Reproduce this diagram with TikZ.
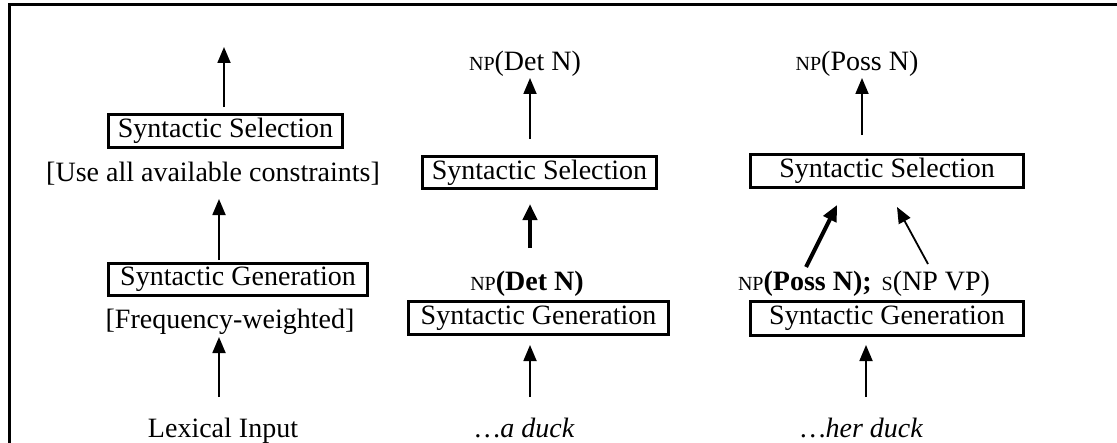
\documentclass[tikz,border=0pt]{standalone}
\usepackage{fontspec}
\setmainfont{Liberation Serif}
\usetikzlibrary{arrows.meta}
\newcommand{\diagfont}{\fontsize{14}{16}\selectfont}
\newcommand{\smc}[1]{{\fontsize{10}{10}\selectfont #1}}
\begin{document}
\begin{tikzpicture}[x=0.5pt,y=-0.5pt,
  every node/.style={font=\diagfont, inner sep=0pt},
  box/.style={draw, line width=1.4pt},
  arr/.style={-{Triangle[length=8pt,width=6.5pt]}, line width=0.9pt},
  tarr/.style={-{Triangle[length=8pt,width=7pt]}, line width=2pt}]
\useasboundingbox (0,0) rectangle (1117,443);
\draw[line width=1.5pt] (9,443) -- (9,5) -- (1117,5);

% column 1
\node[box, minimum width=117pt, minimum height=16.5pt] (ss1) at (225.5,131) {Syntactic Selection};
\node[anchor=base] (use1) at (213,182) {[Use all available constraints]};
\node[box, minimum width=129.5pt, minimum height=16pt] (sg1) at (238,279.5) {Syntactic Generation};
\node[anchor=base] (freq1) at (230,328) {[Frequency-weighted]};
\node[anchor=base] (lex1) at (223,437) {Lexical Input};
\coordinate (a1t) at (224,47);
\coordinate (a2t) at (219,199);
\coordinate (a3s) at (219,397);
\coordinate (a3t) at (219,337);
\draw[arr, shorten <=3pt] (ss1.north -| a1t) -- (a1t);
\draw[arr, shorten <=1pt] (sg1.north -| a2t) -- (a2t);
\draw[arr] (a3s) -- (a3t);

% column 2
\node[anchor=base] (np2t) at (525,71) {\smc{NP}(Det N)};
\node[box, minimum width=117pt, minimum height=16pt] (ss2) at (539.5,172.5) {Syntactic Selection};
\node[anchor=base] (np2m) at (527,290) {\smc{NP}\textbf{(Det N)}};
\node[box, minimum width=130pt, minimum height=16.5pt] (sg2) at (538.5,318) {Syntactic Generation};
\node[anchor=base] (duck2) at (525,437) {\textit{\dots a duck}};
\coordinate (b1t) at (530,78);
\coordinate (b2s) at (530,248);
\coordinate (b2t) at (530,204);
\coordinate (b3s) at (530,397);
\coordinate (b3t) at (530,345);
\draw[arr, shorten <=8pt] (ss2.north -| b1t) -- (b1t);
\draw[tarr] (b2s) -- (b2t);
\draw[arr] (b3s) -- (b3t);

% column 3
\node[anchor=base] (np3t) at (857,71) {\smc{NP}(Poss N)};
\node[box, minimum width=136.5pt, minimum height=16.5pt] (ss3) at (887,171) {Syntactic Selection};
\node[anchor=base] (np3m) at (864,290) {\smc{NP}\textbf{(Poss N);}\hspace{5pt}\smc{S}(NP VP)};
\node[box, minimum width=136.5pt, minimum height=17pt] (sg3) at (887,318.5) {Syntactic Generation};
\node[anchor=base] (duck3) at (862,437) {\textit{\dots her duck}};
\coordinate (c1t) at (862,78);
\coordinate (c2s) at (806,267);
\coordinate (c2t) at (837,205);
\coordinate (c3s) at (928,264);
\coordinate (c3t) at (897,207);
\coordinate (c4s) at (866,397);
\coordinate (c4t) at (866,345);
\draw[arr, shorten <=9pt] (ss3.north -| c1t) -- (c1t);
\draw[tarr] (c2s) -- (c2t);
\draw[arr] (c3s) -- (c3t);
\draw[arr] (c4s) -- (c4t);
\end{tikzpicture}
\end{document}
